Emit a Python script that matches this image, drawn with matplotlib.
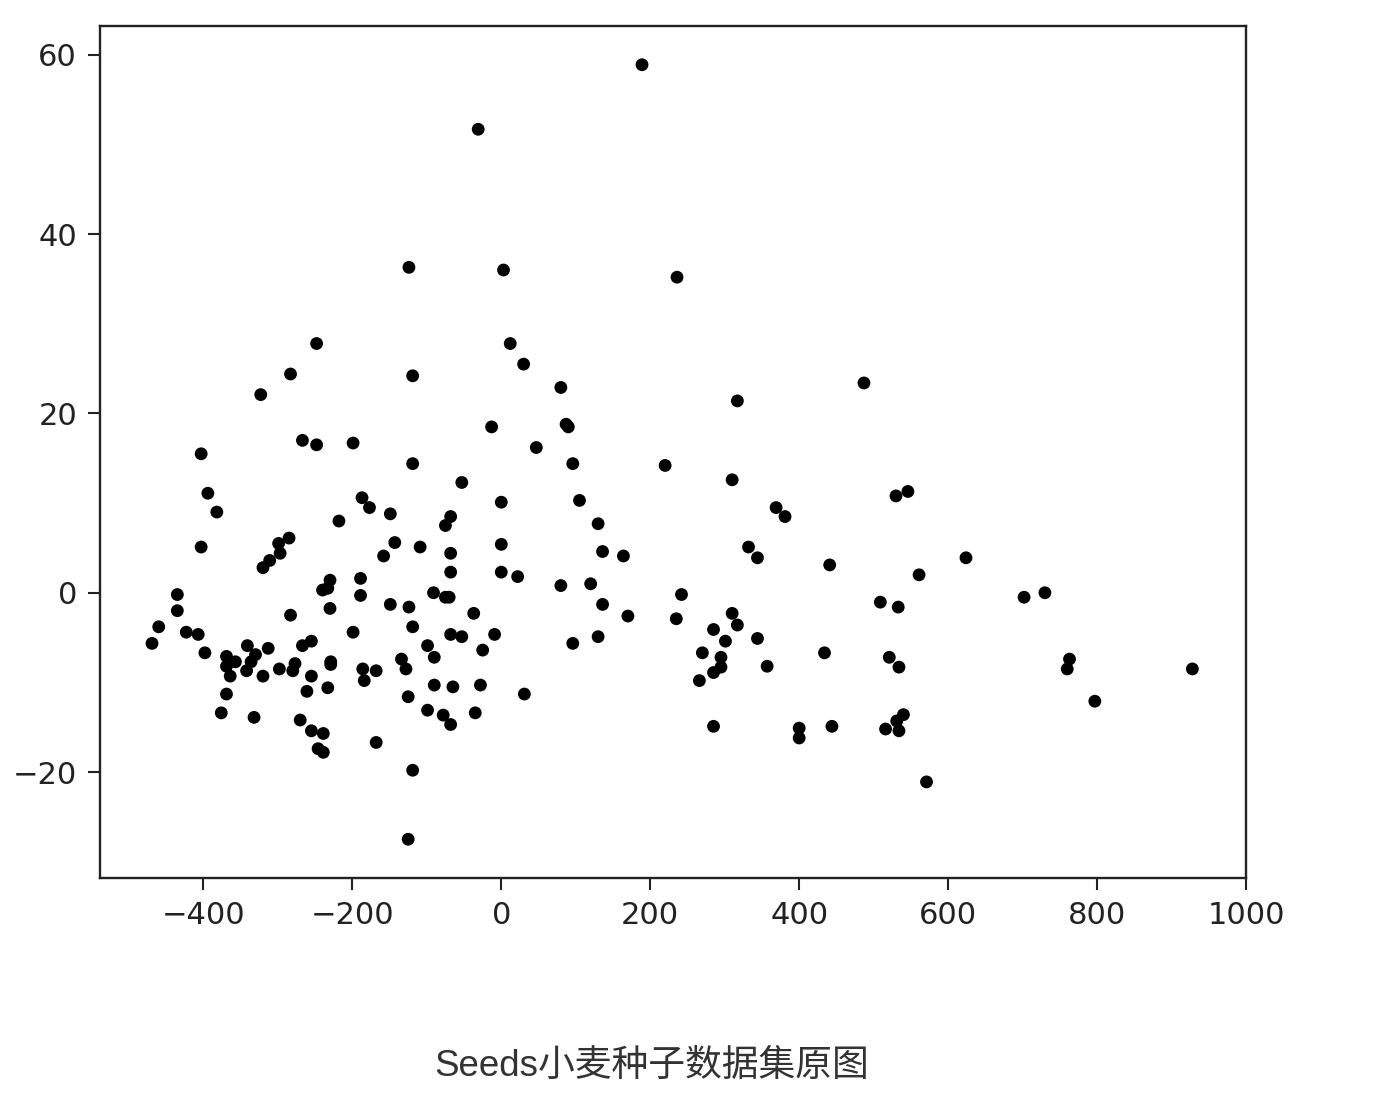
import matplotlib.pyplot as plt

plt.rcParams["font.family"] = ["DejaVu Sans"]

# first two principal components of the seeds data
pc1 = [
    189, -31, -124, 3, 236, -248, 12, 30, -283, -119, -323, 80, 487, 317, 87, 90, -13,
    -267, -248, -199, 47, -403, -119, 96, 220, -53, 310, 546, 530, -394, -187, -177, 0,
    105, -382, 369, 381, -149, -68, -218, -75, 130, -403, -285, -299, -297, -311, -320,
    -143, -158, -109, -68, 0, 136, 164, 332, 344, 441, 624, 561, -68, 0, 22, 80, 120,
    -230, -240, -233, -189, -189, -435, -435, -91, -75, -70, 702, 730, 242, 509, 533,
    -283, -230, -149, -124, -37, 136, 170, 235, 310, -460, -469, -423, -407, -398, -119,
    -199, -341, -313, -267, -255, -369, -357, -369, -364, -330, -336, -342, -320, -298,
    -277, -280, -255, -229, -229, -261, -233, -186, -184, -168, -134, -128, -125, -369,
    -376, -332, -270, -255, -239, -246, -239, -168, -119, -125, -68, -53, -9, -99, -90,
    -25, -90, -65, -28, 31, -99, -78, -68, -35, 96, 130, 317, 285, 301, 344, 270, 295,
    295, 285, 266, 357, 434, 521, 534, 285, 400, 400, 444, 516, 540, 531, 534, 571, 763,
    760, 928, 797,
]
pc2 = [
    58.9, 51.7, 36.3, 36.0, 35.2, 27.8, 27.8, 25.5, 24.4, 24.2, 22.1, 22.9, 23.4, 21.4,
    18.8, 18.5, 18.5, 17.0, 16.5, 16.7, 16.2, 15.5, 14.4, 14.4, 14.2, 12.3, 12.6, 11.3,
    10.8, 11.1, 10.6, 9.5, 10.1, 10.3, 9.0, 9.5, 8.5, 8.8, 8.5, 8.0, 7.5, 7.7, 5.1, 6.1,
    5.5, 4.4, 3.6, 2.8, 5.6, 4.1, 5.1, 4.4, 5.4, 4.6, 4.1, 5.1, 3.9, 3.1, 3.9, 2.0, 2.3,
    2.3, 1.8, 0.8, 1.0, 1.4, 0.3, 0.5, 1.6, -0.3, -0.2, -2.0, 0.0, -0.5, -0.5, -0.5, 0.0,
    -0.2, -1.05, -1.6,
    -2.5, -1.75, -1.3, -1.6, -2.3, -1.3, -2.6, -2.9, -2.3, -3.8, -5.65, -4.4, -4.65, -6.7,
    -3.8, -4.4, -5.9, -6.2, -5.9, -5.4, -7.1, -7.7, -8.2, -9.3, -6.9, -7.7, -8.7, -9.3,
    -8.5, -7.9, -8.7, -9.3, -7.7, -8.0, -11.0, -10.6, -8.5, -9.8, -8.7, -7.4, -8.5, -11.6,
    -11.3, -13.4, -13.9, -14.2, -15.4, -15.7, -17.4, -17.8, -16.7, -19.8, -27.5, -4.65,
    -4.9, -4.65, -5.9, -7.2, -6.4, -10.3, -10.5, -10.3, -11.3, -13.1, -13.65, -14.7, -13.4,
    -5.65, -4.9, -3.6, -4.1, -5.4, -5.1, -6.7, -7.2, -8.3, -8.9, -9.8, -8.2, -6.7, -7.2,
    -8.3, -14.9, -15.1, -16.2, -14.9, -15.2, -13.6, -14.3, -15.4, -21.1, -7.4, -8.5, -8.5,
    -12.1,
]
caption = "Seeds小麦种子数据集原图"

fig = plt.figure(figsize=(13.78, 11.12), dpi=100)
ax = fig.add_axes([100 / 1378, 234 / 1112, 1146 / 1378, 852 / 1112])
ax.scatter(pc1, pc2, s=85, c="black", edgecolors="none")

ax.set_xticks([-400, -200, 0, 200, 400, 600, 800, 1000])
ax.set_yticks([-20, 0, 20, 40, 60])
ax.tick_params(labelsize=22, length=8.5, width=1.5, pad=8, colors="#222222")
for spine in ax.spines.values():
    spine.set_linewidth(1.7)
    spine.set_color("#222222")

fig.text(0.473, 0.041, caption, ha="center", va="center", fontsize=26.5,
         color="#333333", family=["Liberation Sans", "Noto Sans CJK SC"])

fig.savefig("out.png", dpi=100)
